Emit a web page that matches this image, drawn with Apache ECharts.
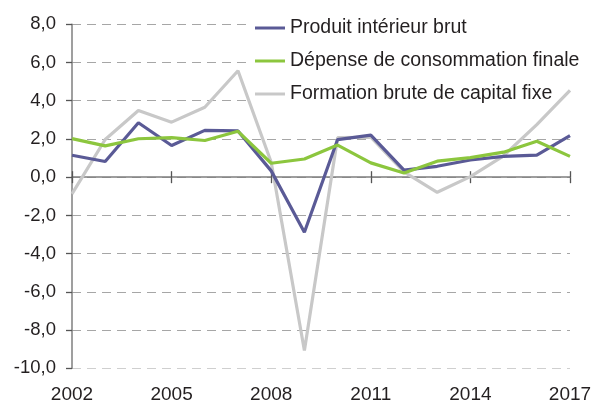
<!DOCTYPE html>
<html>
<head>
<meta charset="utf-8">
<script src="https://cdn.jsdelivr.net/npm/echarts@6/dist/echarts.min.js"></script>
<style>
html,body{margin:0;padding:0;background:#fff;}
#c{width:595px;height:406px;}
</style>
</head>
<body>
<div id="c"></div>
<script>
const years = ['2002','2003','2004','2005','2006','2007','2008','2009','2010','2011','2012','2013','2014','2015','2016','2017'];
const pib = [1.15, 0.82, 2.85, 1.66, 2.45, 2.42, 0.33, -2.88, 1.97, 2.2, 0.37, 0.57, 0.9, 1.09, 1.15, 2.18];
const conso = [2.02, 1.64, 2.01, 2.07, 1.92, 2.4, 0.73, 0.95, 1.68, 0.75, 0.22, 0.84, 1.02, 1.31, 1.88, 1.09];
const fbcf = [-0.87, 1.97, 3.49, 2.88, 3.66, 5.57, 0.78, -9.07, 2.07, 2.09, 0.28, -0.79, 0.03, 1.12, 2.75, 4.54];
const seriesNames = ['Produit intérieur brut', 'Dépense de consommation finale', 'Formation brute de capital fixe'];
const yTicks = {min: -10, max: 8, interval: 2};

const txt = '#231f20';
const font = 'Liberation Sans, Arial, Helvetica, sans-serif';
const chart = echarts.init(document.getElementById('c'));
const gridColors = ['#cfcfcf','#a6a6a6','#a6a6a6','#a6a6a6','#a6a6a6','#a6a6a6','#a6a6a6','#a6a6a6','#a6a6a6','#a6a6a6'];
chart.setOption({
  animation: false,
  textStyle: {fontFamily: font},
  grid: {left: 72, right: 25, top: 24.3, bottom: 37.7, containLabel: false},
  legend: {
    orient: 'vertical', left: 250, top: 8,
    padding: [10, 4, 4, 5],
    backgroundColor: '#ffffff',
    z: 1,
    icon: 'rect', itemWidth: 30, itemHeight: 3, itemGap: 13,
    textStyle: {fontSize: 19.5, lineHeight: 20, color: txt, fontFamily: font},
    data: seriesNames
  },
  xAxis: [
    {type: 'category', data: years, boundaryGap: false, position: 'bottom',
     axisLine: {show: false, onZero: false}, axisTick: {show: false},
     axisLabel: {interval: 2, fontSize: 19, color: txt, margin: 17, fontFamily: font},
     splitLine: {show: false}},
    {type: 'category', data: years, boundaryGap: false, position: 'bottom',
     axisLine: {show: true, onZero: true, onZeroAxisIndex: 0, lineStyle: {color: '#7f7f7f', width: 1.5}},
     axisTick: {show: true, interval: 2, inside: true, length: 6, lineStyle: {color: '#555', width: 1.3}},
     axisLabel: {show: false}, splitLine: {show: false}},
    {type: 'category', data: years, boundaryGap: false, position: 'bottom',
     axisLine: {show: false, onZero: true, onZeroAxisIndex: 0},
     axisTick: {show: true, interval: 2, inside: false, length: 6, lineStyle: {color: '#555', width: 1.3}},
     axisLabel: {show: false}, splitLine: {show: false}}
  ],
  yAxis: {
    type: 'value', min: yTicks.min, max: yTicks.max, interval: yTicks.interval,
    axisLine: {show: true, lineStyle: {color: '#7f7f7f', width: 1.5}},
    axisTick: {show: true, length: 6, lineStyle: {color: '#555', width: 1.3}},
    axisLabel: {fontSize: 18.5, color: txt, margin: 16, fontFamily: font,
      formatter: v => v.toFixed(1).replace('.', ',')},
    splitLine: {show: true, lineStyle: {color: gridColors, type: [9, 6], width: 1}}
  },
  series: [
    {name: seriesNames[0], type: 'line', data: pib, symbol: 'none', xAxisIndex: 0, z: 4,
     lineStyle: {color: '#5a5a96', width: 3.2}, itemStyle: {color: '#5a5a96'}},
    {name: seriesNames[1], type: 'line', data: conso, symbol: 'none', xAxisIndex: 0, z: 5,
     lineStyle: {color: '#8cc63e', width: 3.2}, itemStyle: {color: '#8cc63e'}},
    {name: seriesNames[2], type: 'line', data: fbcf, symbol: 'none', xAxisIndex: 0, z: 3,
     lineStyle: {color: '#c8c8c8', width: 3.2}, itemStyle: {color: '#c8c8c8'}}
  ]
});
</script>
</body>
</html>
